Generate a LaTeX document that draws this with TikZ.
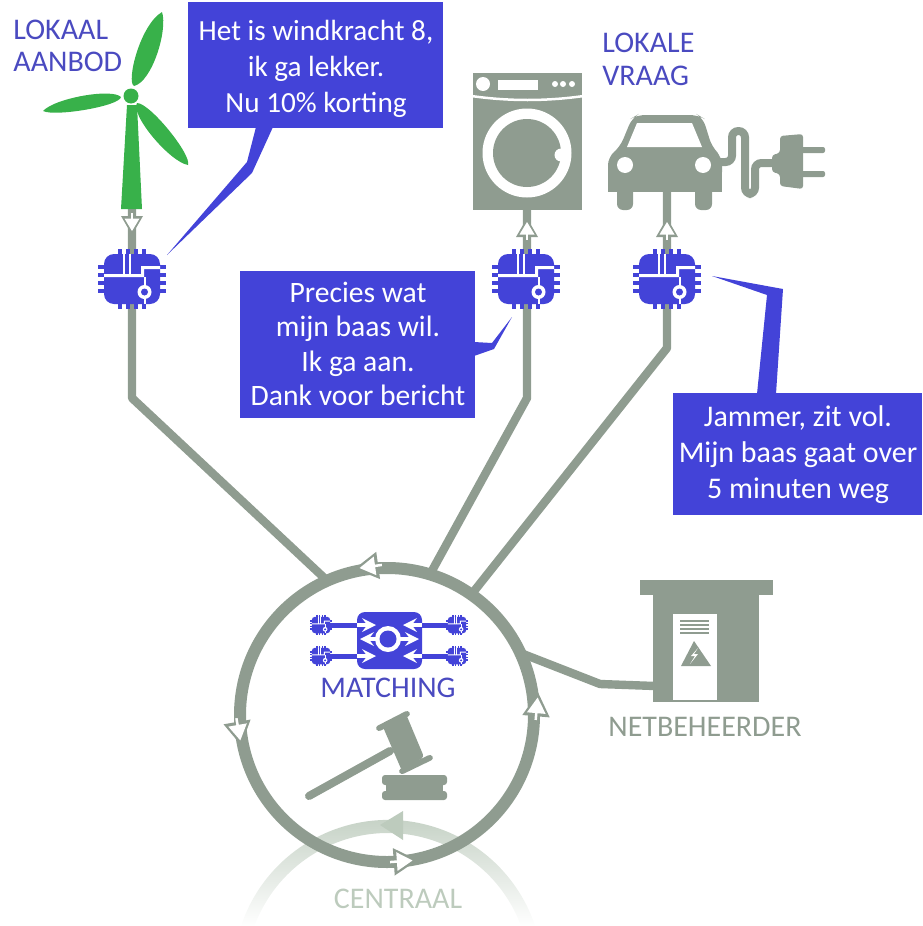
\documentclass[tikz,border=0pt]{standalone}
\usepackage{fontspec}
\setmainfont{Carlito}
\usetikzlibrary{positioning, arrows}
\definecolor{gridgrey}{HTML}{8F9C90}
\definecolor{lightgrey}{HTML}{BDCBBD}
\definecolor{chipblue}{HTML}{4343D8}
\definecolor{labelblue}{HTML}{4A4AC0}
\definecolor{windgreen}{HTML}{38B14A}
\tikzset{>=stealth,
	x=.5pt, y=-.5pt, % one unit is one pixel of the reference
	wire/.style={draw=gridgrey, line width=4.2pt, line join=round},
	callout/.style={fill=chipblue},
	saytext/.style={text=white, font=\fontsize{15}{18}\selectfont, align=center, inner sep=0pt},
	label/.style={font=\fontsize{15}{16.5}\selectfont, inner sep=0pt},
	greyshape/.style={fill=gridgrey},
	whitearrow/.style={->, white, line width=2pt},
	pics/chip/.style={code={
		\begin{scope}[scale=#1]
		\foreach \p in {-12,-4,4,12} {
			\fill[chipblue] (\p-2,-30) rectangle (\p+2,30);
			\fill[chipblue] (-34,\p-2) rectangle (34,\p+2);
		}
		\fill[chipblue, rounded corners=#1*5pt] (-28,-25) rectangle (28,25);
		% white tracks on the chip
		\fill[white] (-28,-5) -- (9,-5) -- (9,-13) -- (28,-13) -- (28,-10) -- (12,-10) -- (12,-2) -- (-28,-2) -- cycle;
		\fill[white] (-9,-25) rectangle (-7,-3);
		\fill[white] (-3,-25) rectangle (-1,-3);
		\fill[white] (11.5,-2) rectangle (13.5,25);
		\fill[white] (12.5,13) circle (7);
		\fill[chipblue] (12.5,13) circle (3.5);
		\end{scope}
	}},
	pics/hollowtip/.style={code={
		\begin{scope}[scale=#1]
		\fill[gridgrey] (10,0) -- (-9,11) -- (-9,-11) -- cycle;
		\fill[white] (6,0) -- (-6.5,7.5) -- (-6.5,-7.5) -- cycle;
		\fill[white] (-12,-1) rectangle (-5,1);
		\end{scope}
	}},
}
\begin{document}
\begin{tikzpicture}
	\useasboundingbox (0,0) rectangle (922,926);
	% the central grid fades out at the bottom
	\shade[top color=lightgrey, middle color=lightgrey, bottom color=white]
		(241,926) arc[start angle=198.4, end angle=341.6, radius=155] -- (521,926)
		arc[start angle=339.8, end angle=200.2, radius=142] -- cycle;
	\fill[lightgrey] (380,825) -- (403,811) -- (403,840) -- cycle;

	% the matching ring and what hangs on it
	\node[circle, draw=gridgrey, line width=6pt, minimum size=147pt, inner sep=0pt, outer sep=0pt] (ring) at (387,715) {};
	\coordinate (chipA) at (132,279);
	\coordinate (chipB) at (527,279);
	\coordinate (chipC) at (667,279);
	\coordinate (bendA) at (132,398);
	\coordinate (bendB) at (527,398);
	\coordinate (bendC) at (667,348);
	\coordinate (bendD) at (600,684);
	\coordinate (houseDoor) at (655,686);
	\coordinate (towerFoot) at (132,209);
	\coordinate (washerFoot) at (527,210);
	\coordinate (carFoot) at (667,192);
	\draw[wire] (towerFoot) -- (chipA) -- (bendA) -- (ring.114);
	\draw[wire] (washerFoot) -- (chipB) -- (bendB) -- (ring.73);
	\draw[wire] (carFoot) -- (chipC) -- (bendC) -- (ring.55);
	\draw[wire] (ring.25) -- (bendD) -- (houseDoor);

	\pic[rotate=-90] at (132,225) {hollowtip=1};
	\pic[rotate=90] at (527,228) {hollowtip=1};
	\pic[rotate=90] at (667,228) {hollowtip=1};
	\pic[rotate=188] at (367,567) {hollowtip=1.25};
	\pic[rotate=-80] at (239,733) {hollowtip=1.25};
	\pic[rotate=4] at (405,861) {hollowtip=1.25};
	\pic[rotate=85] at (537,705) {hollowtip=1.25};

	\pic at (chipA) {chip=1};
	\pic at (526,279) {chip=1};
	\pic at (chipC) {chip=1};

	% wind turbine
	\fill[windgreen] (127,105) -- (137,105) -- (142,209) -- (121,209) -- cycle;
	\fill[windgreen] (131,96) circle (7.5);
	\fill[windgreen] (162,12) .. controls (168,30) and (152,82) .. (134,86) .. controls (126,82) and (140,25) .. (162,12) -- cycle;
	\fill[windgreen] (43,111) .. controls (55,98) and (112,88) .. (121,97) .. controls (120,106) and (55,117) .. (43,111) -- cycle;
	\fill[windgreen] (188,165) .. controls (170,162) and (130,115) .. (137,103) .. controls (150,103) and (192,155) .. (188,165) -- cycle;

	% washing machine
	\fill[greyshape] (473,73) rectangle (582,210);
	\fill[white] (473,95) .. controls (510,100) and (545,100) .. (582,95) -- (582,97.5) .. controls (545,102.5) and (510,102.5) .. (473,97.5) -- cycle;
	\fill[white] (483,84) circle (7);
	\fill[white] (498,80) rectangle (538,90);
	\foreach \d in {555,563,572} {
		\fill[white] (\d,84) circle (3);
	}
	\fill[white] (527,153) circle (44.5);
	\fill[gridgrey] (527,153) circle (34);
	\fill[white] (561,155) circle (6.5);

	% car and plug
	\fill[greyshape, rounded corners=4pt] (608,180) -- (608,157) -- (620,147) -- (632,118) -- (637,115) -- (698,115) -- (703,118) -- (712,147) -- (722,157) -- (722,180) -- cycle;
	\fill[greyshape] (608,170) rectangle (722,192);
	\fill[white] (627,147) -- (637,123) -- (692,123) -- (702,147) -- cycle;
	\fill[white] (625,165) circle (8);
	\fill[white] (703,165) circle (8);
	\fill[greyshape, rounded corners=3pt] (617,185) rectangle (633,210);
	\fill[greyshape, rounded corners=3pt] (695,185) rectangle (712,210);
	\draw[draw=gridgrey, line width=4pt, rounded corners=3.2pt] (720,162) -- (732,162) -- (732,131) -- (745,131) -- (745,194) -- (755,194) -- (755,163) -- (775,163);
	\fill[greyshape, rounded corners=1.5pt] (772,155) -- (780,153) -- (780,136) -- (803,134) -- (803,189) -- (780,186) -- (780,174) -- (772,172) -- cycle;
	\fill[greyshape, rounded corners=1pt] (800,147) rectangle (825,153);
	\fill[greyshape, rounded corners=1pt] (800,171) rectangle (825,177);

	% callouts
	\fill[callout] (188,2) rectangle (443,128);
	\fill[callout] (256,127) -- (247,162) -- (167,255) -- (252,173) -- (273,127) -- cycle;
	\node[saytext, font=\fontsize{14.6}{18}\selectfont] (sayWind) at (316,69) {Het is windkracht 8,\\ik ga lekker.\\Nu 10\% korting};
	\fill[callout] (240,271) rectangle (475,418);
	\fill[callout] (474,342) -- (492,343) -- (512,317) -- (494,349) -- (474,356) -- cycle;
	\node[saytext, font=\fontsize{14.8}{17.3}\selectfont] (sayWasher) at (358,344) {Precies wat\\mijn baas wil.\\Ik ga aan.\\Dank voor bericht};
	\fill[callout] (673,393) rectangle (922,515);
	\fill[callout] (757,394) -- (767,295) -- (712,276) -- (783,289) -- (776,394) -- cycle;
	\node[saytext] (sayCar) at (798,455) {Jammer, zit vol.\\Mijn baas gaat over\\5 minuten weg};

	% matching block
	\fill[chipblue, rounded corners=4pt] (357,612) rectangle (422,669);
	\foreach \y in {625,656} {
		\fill[chipblue] (330,\y-2.5) rectangle (357,\y+2.5);
		\fill[chipblue] (422,\y-2.5) rectangle (448,\y+2.5);
		\pic at (321,\y) {chip=.33};
		\pic at (457,\y) {chip=.33};
		\draw[whitearrow] (357,\y) -- (376,\y);
		\draw[whitearrow] (422,\y) -- (403,\y);
	}
	\draw[whitearrow] (377,639) -- (360,639);
	\draw[whitearrow] (400,639) -- (419,639);
	\fill[white] (388,639) circle (13);
	\fill[chipblue] (388,639) circle (8.5);

	% gavel
	\draw[draw=gridgrey, line width=4pt, line cap=round] (309,796) -- (390,751);
	\fill[greyshape, rounded corners=1.5pt] (383,727) -- (406,714) -- (424,757) -- (402,771) -- cycle;
	\fill[greyshape, rounded corners=1.5pt] (375,727) -- (408,710) -- (411,715) -- (378,732) -- cycle;
	\fill[greyshape, rounded corners=1.5pt] (398,770) -- (431,754) -- (434,759) -- (401,775) -- cycle;
	\fill[greyshape, rounded corners=1.5pt] (382,775) rectangle (447,785);
	\fill[greyshape] (386,784) rectangle (443,792);
	\fill[greyshape, rounded corners=1.5pt] (382,791) rectangle (447,800);

	% transformer house
	\fill[greyshape] (640,580) rectangle (773,595);
	\fill[greyshape] (653,595) rectangle (759,702);
	\fill[white] (673,614) rectangle (717,700);
	\foreach \l in {620,624,628,632} {
		\fill[gridgrey] (680,\l) rectangle (709,\l+1.5);
	}
	\fill[greyshape] (694,641) -- (711,666) -- (681,666) -- cycle;
	\fill[white] (698,648) -- (691,656) -- (695,656) -- (690,664) -- (698,654) -- (694,654) -- cycle;

	% labels
	\node[label, text=labelblue, anchor=west] (aanbod) at (13,30) {LOKAAL};
	\node[label, text=labelblue, below=16pt of aanbod.west, anchor=west] (aanbodB) {AANBOD};
	\node[label, text=labelblue, anchor=west] (vraag) at (602,43) {LOKALE};
	\node[label, text=labelblue, below=16.5pt of vraag.west, anchor=west] (vraagB) {VRAAG};
	\node[label, text=labelblue] (matching) at (388,688) {MATCHING};
	\node[label, text=gridgrey] (netbeheerder) at (705,727) {NETBEHEERDER};
	\node[label, text=lightgrey] (centraal) at (398,899) {CENTRAAL};
\end{tikzpicture}
\end{document}
